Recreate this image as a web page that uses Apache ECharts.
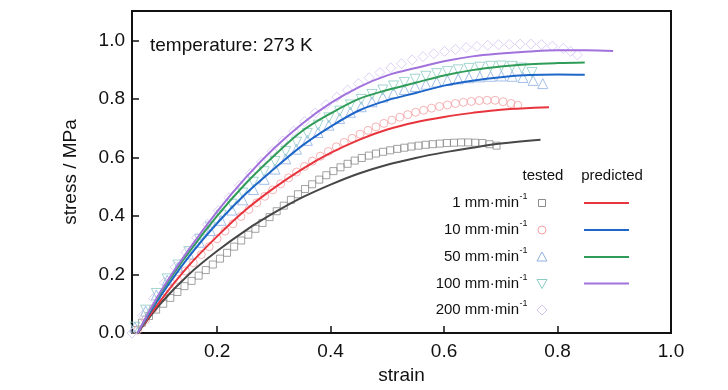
<!DOCTYPE html>
<html>
<head>
<meta charset="utf-8">
<script src="https://cdn.jsdelivr.net/npm/echarts@6/dist/echarts.min.js"></script>
<style>html,body{margin:0;padding:0;background:#fff}#c{width:728px;height:390px}</style>
</head>
<body>
<div id="c"></div>
<script>
// ---------- data ----------
const xTicks = [0.2, 0.4, 0.6, 0.8, 1.0];
const yTicks = [0.0, 0.2, 0.4, 0.6, 0.8, 1.0];
const rateLabels = ['1 mm·min', '10 mm·min', '50 mm·min', '100 mm·min', '200 mm·min'];
const supLabel = '-1';
const headerTested = 'tested';
const headerPredicted = 'predicted';
const titleText = 'temperature: 273 K';

// tested (markers)
const tested1 = [[0.055,0.01],[0.0675,0.035],[0.08,0.058],[0.0925,0.08],[0.105,0.10],[0.1175,0.12],[0.13,0.14],[0.1425,0.16],[0.155,0.178],[0.1675,0.196],[0.18,0.215],[0.1925,0.234],[0.205,0.254],[0.2175,0.274],[0.23,0.295],[0.2425,0.316],[0.255,0.336],[0.2675,0.356],[0.28,0.376],[0.2925,0.396],[0.305,0.416],[0.3175,0.435],[0.33,0.455],[0.3425,0.474],[0.355,0.492],[0.3675,0.508],[0.38,0.524],[0.3925,0.539],[0.405,0.553],[0.4175,0.566],[0.43,0.578],[0.4425,0.589],[0.455,0.598],[0.4675,0.606],[0.48,0.613],[0.4925,0.619],[0.505,0.624],[0.5175,0.629],[0.53,0.633],[0.5425,0.637],[0.555,0.640],[0.5675,0.643],[0.58,0.645],[0.5925,0.647],[0.605,0.649],[0.6175,0.650],[0.63,0.651],[0.6425,0.651],[0.655,0.650],[0.6675,0.649],[0.68,0.645],[0.6925,0.640]];
const tested10 = [[0.06,0.01],[0.074,0.045],[0.088,0.085],[0.102,0.12],[0.116,0.152],[0.13,0.183],[0.144,0.212],[0.158,0.24],[0.172,0.268],[0.186,0.295],[0.2,0.322],[0.214,0.348],[0.228,0.373],[0.242,0.398],[0.256,0.422],[0.27,0.445],[0.284,0.467],[0.298,0.489],[0.312,0.51],[0.326,0.53],[0.34,0.55],[0.354,0.569],[0.368,0.587],[0.382,0.604],[0.396,0.62],[0.41,0.636],[0.424,0.651],[0.438,0.665],[0.452,0.679],[0.466,0.692],[0.48,0.704],[0.494,0.716],[0.508,0.727],[0.522,0.737],[0.536,0.746],[0.55,0.754],[0.564,0.761],[0.578,0.768],[0.592,0.774],[0.606,0.779],[0.62,0.784],[0.634,0.788],[0.648,0.791],[0.662,0.794],[0.676,0.795],[0.69,0.795],[0.704,0.79],[0.718,0.784],[0.73,0.778]];
const tested50 = [[0.055,0.02],[0.074,0.075],[0.093,0.13],[0.112,0.18],[0.131,0.225],[0.15,0.27],[0.169,0.31],[0.188,0.35],[0.207,0.385],[0.226,0.42],[0.245,0.455],[0.264,0.49],[0.283,0.525],[0.302,0.56],[0.321,0.595],[0.34,0.628],[0.359,0.658],[0.378,0.685],[0.397,0.71],[0.416,0.733],[0.435,0.754],[0.454,0.773],[0.473,0.79],[0.492,0.806],[0.511,0.82],[0.53,0.832],[0.549,0.842],[0.568,0.85],[0.587,0.857],[0.606,0.863],[0.625,0.868],[0.644,0.872],[0.663,0.875],[0.682,0.877],[0.701,0.878],[0.72,0.877],[0.739,0.873],[0.757,0.863],[0.774,0.852]];
const tested100 = [[0.055,0.02],[0.074,0.078],[0.093,0.135],[0.112,0.185],[0.131,0.232],[0.15,0.278],[0.169,0.32],[0.188,0.362],[0.207,0.402],[0.226,0.44],[0.245,0.478],[0.264,0.515],[0.283,0.551],[0.302,0.586],[0.321,0.62],[0.34,0.652],[0.359,0.682],[0.378,0.71],[0.397,0.735],[0.416,0.758],[0.435,0.779],[0.454,0.798],[0.473,0.815],[0.492,0.83],[0.511,0.844],[0.53,0.856],[0.549,0.867],[0.568,0.877],[0.587,0.886],[0.606,0.893],[0.625,0.899],[0.644,0.904],[0.663,0.908],[0.682,0.911],[0.701,0.912],[0.72,0.911],[0.737,0.905],[0.755,0.89]];
const tested200 = [[0.05,0.0],[0.069,0.06],[0.088,0.118],[0.107,0.172],[0.126,0.225],[0.145,0.276],[0.164,0.325],[0.183,0.372],[0.202,0.418],[0.221,0.462],[0.24,0.504],[0.259,0.545],[0.278,0.584],[0.297,0.621],[0.316,0.656],[0.335,0.69],[0.354,0.722],[0.373,0.752],[0.392,0.78],[0.411,0.806],[0.43,0.83],[0.449,0.852],[0.468,0.872],[0.487,0.89],[0.506,0.906],[0.525,0.92],[0.544,0.933],[0.563,0.944],[0.582,0.954],[0.601,0.962],[0.62,0.969],[0.639,0.975],[0.658,0.979],[0.677,0.983],[0.696,0.985],[0.715,0.986],[0.734,0.987],[0.753,0.987],[0.772,0.985],[0.791,0.98],[0.81,0.972],[0.823,0.962],[0.835,0.95]];

// predicted (lines)
const pred1 = [[0.06,0],[0.1,0.1],[0.15,0.2],[0.2,0.28],[0.25,0.35],[0.3,0.41],[0.35,0.463],[0.4,0.507],[0.45,0.545],[0.5,0.575],[0.55,0.598],[0.6,0.617],[0.65,0.633],[0.7,0.647],[0.77,0.66]];
const pred10 = [[0.06,0],[0.1,0.11],[0.15,0.23],[0.2,0.33],[0.25,0.42],[0.3,0.495],[0.35,0.56],[0.4,0.615],[0.45,0.66],[0.5,0.695],[0.55,0.72],[0.6,0.738],[0.65,0.752],[0.7,0.763],[0.785,0.771]];
const pred50 = [[0.06,0],[0.1,0.125],[0.15,0.26],[0.2,0.375],[0.25,0.475],[0.3,0.56],[0.35,0.64],[0.4,0.705],[0.45,0.76],[0.5,0.795],[0.55,0.82],[0.6,0.845],[0.65,0.862],[0.7,0.874],[0.75,0.881],[0.8,0.883],[0.848,0.882]];
const pred100 = [[0.06,0],[0.1,0.135],[0.15,0.275],[0.2,0.4],[0.25,0.51],[0.3,0.605],[0.35,0.69],[0.4,0.75],[0.45,0.8],[0.5,0.83],[0.55,0.855],[0.6,0.88],[0.65,0.898],[0.7,0.91],[0.75,0.918],[0.8,0.922],[0.848,0.924]];
const pred200 = [[0.06,0],[0.1,0.14],[0.15,0.285],[0.2,0.415],[0.25,0.53],[0.3,0.63],[0.35,0.715],[0.4,0.785],[0.45,0.84],[0.5,0.88],[0.55,0.905],[0.6,0.928],[0.65,0.945],[0.7,0.955],[0.75,0.962],[0.8,0.966],[0.85,0.966],[0.898,0.963]];

// ---------- styles ----------
const FONT = "'Liberation Sans', Arial, sans-serif";
const markerColors = ['#8c8c8c', '#f2a0a4', '#8fb0e2', '#8ccbc4', '#d3c4f2'];
const lineColors = ['#474747', '#e8343c', '#1e66c8', '#2f9c58', '#a272dc'];
const legendLineColors = ['#e8343c', '#1e66c8', '#2f9c58', '#a272dc'];

const tested = [tested1, tested10, tested50, tested100, tested200];
const pred = [pred1, pred10, pred50, pred100, pred200];
const symbols = [
  {symbol: 'rect', size: 7, rotate: 0},
  {symbol: 'circle', size: 8, rotate: 0},
  {symbol: 'triangle', size: 10, rotate: 0},
  {symbol: 'triangle', size: 10, rotate: 180},
  {symbol: 'diamond', size: 10, rotate: 0}
];

const series = [];
tested.forEach((d, i) => {
  series.push({
    type: 'scatter', data: d, symbol: symbols[i].symbol, symbolSize: symbols[i].size,
    symbolRotate: symbols[i].rotate, z: 2,
    itemStyle: {color: 'rgba(0,0,0,0)', borderColor: markerColors[i], borderWidth: 1},
    emphasis: {disabled: true}, silent: true
  });
});
pred.forEach((d, i) => {
  series.push({
    type: 'line', data: d, smooth: 0.35, showSymbol: false, z: 3,
    lineStyle: {color: lineColors[i], width: 2}, silent: true
  });
});

// legend graphics
const graphic = [];
graphic.push({type: 'text', x: 150, y: 46, style: {text: titleText, font: '19px ' + FONT, fill: '#111', verticalAlign: 'middle', align: 'left'}});
graphic.push({type: 'text', x: 543, y: 176, style: {text: headerTested, font: '15px ' + FONT, fill: '#111', verticalAlign: 'middle', align: 'center'}});
graphic.push({type: 'text', x: 612, y: 176, style: {text: headerPredicted, font: '15px ' + FONT, fill: '#111', verticalAlign: 'middle', align: 'center'}});
const rowY = [203, 230, 257, 283.5, 310];
rateLabels.forEach((lab, i) => {
  const y = rowY[i];
  graphic.push({type: 'text', x: 519, y: y, style: {text: lab, font: '15px ' + FONT, fill: '#111', verticalAlign: 'middle', align: 'right'}});
  graphic.push({type: 'text', x: 519.5, y: y - 6, style: {text: supLabel, font: '9px ' + FONT, fill: '#111', verticalAlign: 'middle', align: 'left'}});
  const cx = 542, st = {fill: 'none', stroke: markerColors[i], lineWidth: 1};
  if (i === 0) graphic.push({type: 'rect', shape: {x: cx - 3.5, y: y - 3.5, width: 7, height: 7}, style: st});
  if (i === 1) graphic.push({type: 'circle', shape: {cx: cx, cy: y, r: 4}, style: st});
  if (i === 2) graphic.push({type: 'polygon', shape: {points: [[cx, y - 5], [cx + 5, y + 4], [cx - 5, y + 4]]}, style: st});
  if (i === 3) graphic.push({type: 'polygon', shape: {points: [[cx, y + 5], [cx + 5, y - 4], [cx - 5, y - 4]]}, style: st});
  if (i === 4) graphic.push({type: 'polygon', shape: {points: [[cx, y - 5], [cx + 5, y], [cx, y + 5], [cx - 5, y]]}, style: st});
  if (i < legendLineColors.length) graphic.push({type: 'line', shape: {x1: 584, y1: y, x2: 629, y2: y}, style: {stroke: legendLineColors[i], lineWidth: 2}});
});

const chart = echarts.init(document.getElementById('c'), null, {renderer: 'canvas'});
chart.setOption({
  animation: false,
  backgroundColor: '#fff',
  grid: {left: 132, right: 57, top: 11, bottom: 57, show: true, borderColor: '#111', borderWidth: 2, containLabel: false},
  xAxis: {
    type: 'value', min: 0.05, max: 1.0,
    name: 'strain', nameLocation: 'middle', nameGap: 33,
    nameTextStyle: {fontFamily: FONT, fontSize: 19, color: '#111'},
    axisLine: {show: true, onZero: false, lineStyle: {color: '#111', width: 2}},
    axisTick: {show: true, inside: true, length: 7, customValues: xTicks, lineStyle: {color: '#111', width: 1.5}},
    axisLabel: {customValues: xTicks, margin: 9, fontFamily: FONT, fontSize: 19, color: '#111', formatter: v => v.toFixed(1)},
    splitLine: {show: false}
  },
  yAxis: {
    type: 'value', min: 0, max: 1.1,
    name: 'stress / MPa', nameLocation: 'middle', nameGap: 52,
    nameTextStyle: {fontFamily: FONT, fontSize: 19, color: '#111'},
    axisLine: {show: true, onZero: false, lineStyle: {color: '#111', width: 2}},
    axisTick: {show: true, inside: true, length: 7, customValues: yTicks, lineStyle: {color: '#111', width: 1.5}},
    axisLabel: {customValues: yTicks, margin: 7, fontFamily: FONT, fontSize: 19, color: '#111', formatter: v => v.toFixed(1)},
    splitLine: {show: false}
  },
  series: series,
  graphic: graphic
});
</script>
</body>
</html>
